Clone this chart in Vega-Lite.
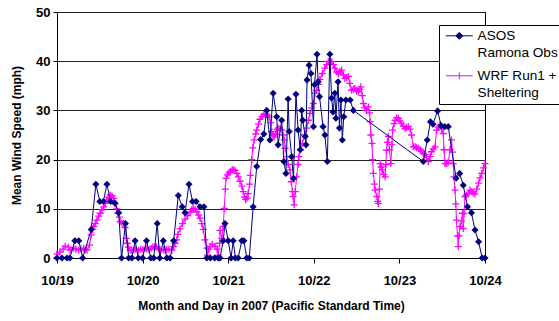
{
  "$schema": "https://vega.github.io/schema/vega-lite/v6.json",
  "width": 428,
  "height": 246,
  "autosize": {"type": "none"},
  "padding": {"left": 57, "top": 12, "right": 74, "bottom": 63},
  "background": "white",
  "config": {
    "font": "Liberation Sans",
    "view": {"stroke": "black", "strokeWidth": 1},
    "axis": {
      "labelFont": "Liberation Sans",
      "labelFontWeight": "bold",
      "labelFontSize": 13,
      "labelColor": "black",
      "titleFont": "Liberation Sans",
      "titleFontSize": 12,
      "titleFontWeight": "bold",
      "titleColor": "black",
      "domainColor": "black",
      "tickColor": "black"
    },
    "legend": {"labelFont": "Liberation Sans", "labelFontSize": 13.6, "labelColor": "black"}
  },
  "datasets": {
    "wrf": [
      {"hour":0,"mph":0.8},{"hour":0.8,"mph":1.2},{"hour":1.7,"mph":1.8},{"hour":2.3,"mph":2.4},{"hour":3.2,"mph":2.2},{"hour":3.7,"mph":1.6},{"hour":4.7,"mph":2.0},{"hour":5.3,"mph":1.8},{"hour":6.1,"mph":1.6},{"hour":6.7,"mph":1.9},{"hour":7.5,"mph":2.0},{"hour":8,"mph":1.7},{"hour":8.4,"mph":1.6},{"hour":9.1,"mph":2.6},{"hour":9.6,"mph":4.7},{"hour":10,"mph":5.8},{"hour":10.3,"mph":6.4},{"hour":10.7,"mph":7.0},{"hour":11.2,"mph":7.7},{"hour":11.7,"mph":8.5},{"hour":12.1,"mph":9.1},{"hour":12.6,"mph":9.8},{"hour":13.1,"mph":10.4},{"hour":13.5,"mph":11.1},{"hour":14,"mph":11.8},{"hour":14.5,"mph":12.3},{"hour":14.9,"mph":12.8},{"hour":15.4,"mph":12.6},{"hour":15.9,"mph":12.1},{"hour":16.3,"mph":11},{"hour":16.7,"mph":10},{"hour":17.1,"mph":9.1},{"hour":17.5,"mph":8.3},{"hour":17.7,"mph":7.4},{"hour":18.2,"mph":7.1},{"hour":18.7,"mph":7.0},{"hour":19.1,"mph":6.2},{"hour":19.4,"mph":4.0},{"hour":19.7,"mph":3.0},{"hour":20,"mph":2.2},{"hour":20.5,"mph":1.6},{"hour":21,"mph":1.5},{"hour":21.6,"mph":1.7},{"hour":22.1,"mph":1.8},{"hour":22.9,"mph":1.6},{"hour":23.5,"mph":1.8},{"hour":24.1,"mph":1.7},{"hour":24.8,"mph":2.0},{"hour":25.2,"mph":1.9},{"hour":25.8,"mph":1.7},{"hour":26.4,"mph":2.0},{"hour":26.9,"mph":2.3},{"hour":27.5,"mph":2.2},{"hour":27.9,"mph":2.3},{"hour":28.5,"mph":1.9},{"hour":28.9,"mph":1.7},{"hour":29.8,"mph":1.7},{"hour":30.3,"mph":1.6},{"hour":30.8,"mph":1.8},{"hour":31.4,"mph":1.8},{"hour":32.2,"mph":1.6},{"hour":32.7,"mph":2.3},{"hour":33.1,"mph":3.0},{"hour":33.6,"mph":3.7},{"hour":33.9,"mph":4.8},{"hour":34.5,"mph":5.9},{"hour":35.2,"mph":7.0},{"hour":35.9,"mph":7.9},{"hour":36.6,"mph":8.6},{"hour":37.3,"mph":9.3},{"hour":37.8,"mph":9.8},{"hour":38.2,"mph":10.1},{"hour":38.7,"mph":9.9},{"hour":39.2,"mph":9.4},{"hour":39.7,"mph":8.7},{"hour":40.1,"mph":8.1},{"hour":40.6,"mph":7.0},{"hour":41,"mph":5.8},{"hour":41.5,"mph":3.7},{"hour":42,"mph":2.0},{"hour":42.2,"mph":0.6},{"hour":42.6,"mph":1.8},{"hour":42.9,"mph":2.3},{"hour":43.5,"mph":2.8},{"hour":44.3,"mph":2.4},{"hour":44.9,"mph":1.8},{"hour":45.2,"mph":0.6},{"hour":45.6,"mph":3.0},{"hour":45.7,"mph":5.6},{"hour":46.2,"mph":4.0},{"hour":46.6,"mph":6.4},{"hour":46.9,"mph":10.1},{"hour":47.2,"mph":14},{"hour":47.4,"mph":16.2},{"hour":47.8,"mph":16.9},{"hour":48.2,"mph":17.3},{"hour":48.6,"mph":17.6},{"hour":49.1,"mph":17.9},{"hour":49.4,"mph":18.0},{"hour":49.9,"mph":17.8},{"hour":50.4,"mph":17.2},{"hour":50.8,"mph":16.5},{"hour":51.3,"mph":15.6},{"hour":51.8,"mph":14.6},{"hour":52.2,"mph":13.5},{"hour":52.6,"mph":12.4},{"hour":52.9,"mph":11.9},{"hour":53.3,"mph":12.2},{"hour":53.6,"mph":13.1},{"hour":54,"mph":15},{"hour":54.2,"mph":16.8},{"hour":54.6,"mph":20.0},{"hour":54.9,"mph":22.4},{"hour":55.3,"mph":24.0},{"hour":55.7,"mph":25.2},{"hour":56,"mph":26.0},{"hour":56.5,"mph":27.2},{"hour":56.9,"mph":28.2},{"hour":57.5,"mph":28.8},{"hour":58,"mph":29.2},{"hour":58.6,"mph":29.3},{"hour":59,"mph":29.0},{"hour":59.5,"mph":28.6},{"hour":59.9,"mph":27.5},{"hour":60.2,"mph":25.7},{"hour":60.6,"mph":24.9},{"hour":60.9,"mph":24.6},{"hour":61.3,"mph":25.2},{"hour":61.7,"mph":26.1},{"hour":62,"mph":26.4},{"hour":62.5,"mph":26.2},{"hour":63.1,"mph":26},{"hour":63.4,"mph":25},{"hour":63.7,"mph":24},{"hour":64,"mph":22.3},{"hour":64.4,"mph":20.6},{"hour":64.8,"mph":19},{"hour":65.3,"mph":17.9},{"hour":65.7,"mph":15.5},{"hour":66,"mph":13.5},{"hour":66.2,"mph":12.5},{"hour":66.5,"mph":10.8},{"hour":66.8,"mph":13.5},{"hour":67.2,"mph":16.5},{"hour":67.6,"mph":19},{"hour":67.8,"mph":20.6},{"hour":68.3,"mph":22},{"hour":68.8,"mph":23.3},{"hour":69.4,"mph":25},{"hour":70,"mph":26.4},{"hour":70.5,"mph":28},{"hour":70.9,"mph":29.4},{"hour":71.4,"mph":30.5},{"hour":71.9,"mph":31.4},{"hour":72.3,"mph":33.5},{"hour":72.8,"mph":34.1},{"hour":73.3,"mph":35.3},{"hour":73.7,"mph":36.3},{"hour":74.4,"mph":37.5},{"hour":75.1,"mph":38.6},{"hour":75.6,"mph":39.3},{"hour":76.1,"mph":39.9},{"hour":76.5,"mph":40.0},{"hour":77,"mph":39.9},{"hour":77.5,"mph":39.3},{"hour":77.9,"mph":38.6},{"hour":78.4,"mph":37.8},{"hour":78.9,"mph":37.5},{"hour":79.3,"mph":37.9},{"hour":79.8,"mph":38.2},{"hour":80.3,"mph":37.2},{"hour":80.7,"mph":36.5},{"hour":81.2,"mph":36.7},{"hour":81.7,"mph":36.9},{"hour":82.1,"mph":35.5},{"hour":82.6,"mph":34.1},{"hour":83.1,"mph":34.3},{"hour":83.5,"mph":34.5},{"hour":84,"mph":34.0},{"hour":84.5,"mph":33.8},{"hour":84.9,"mph":34.3},{"hour":85.2,"mph":34.8},{"hour":85.6,"mph":33},{"hour":85.9,"mph":31.4},{"hour":86.3,"mph":30.5},{"hour":86.8,"mph":30},{"hour":87.3,"mph":30.7},{"hour":87.6,"mph":29.5},{"hour":87.8,"mph":27.7},{"hour":88,"mph":25},{"hour":88.3,"mph":23.3},{"hour":88.5,"mph":20},{"hour":88.7,"mph":17.2},{"hour":89,"mph":15},{"hour":89.2,"mph":13.8},{"hour":89.7,"mph":12.5},{"hour":89.9,"mph":11.5},{"hour":90.1,"mph":11.1},{"hour":90.4,"mph":14},{"hour":90.6,"mph":19.2},{"hour":90.9,"mph":18.5},{"hour":91.2,"mph":17.9},{"hour":91.6,"mph":17},{"hour":92,"mph":16.5},{"hour":92.2,"mph":19},{"hour":92.4,"mph":21.9},{"hour":92.6,"mph":23.5},{"hour":92.9,"mph":24.7},{"hour":93.2,"mph":22},{"hour":93.6,"mph":19.2},{"hour":93.9,"mph":23},{"hour":94.1,"mph":26},{"hour":94.5,"mph":27.3},{"hour":94.8,"mph":28},{"hour":95.2,"mph":28.5},{"hour":95.7,"mph":28.4},{"hour":96.2,"mph":27.8},{"hour":96.6,"mph":27.4},{"hour":97.1,"mph":26.8},{"hour":97.6,"mph":26.3},{"hour":98,"mph":26.5},{"hour":98.5,"mph":26.7},{"hour":99,"mph":26.2},{"hour":99.4,"mph":25},{"hour":99.9,"mph":22.6},{"hour":100.4,"mph":22.6},{"hour":100.8,"mph":22.4},{"hour":101.3,"mph":22.3},{"hour":101.8,"mph":22.1},{"hour":102.2,"mph":21.7},{"hour":102.7,"mph":21.3},{"hour":103.2,"mph":21},{"hour":103.6,"mph":20.6},{"hour":104.1,"mph":19.6},{"hour":104.6,"mph":20.6},{"hour":105,"mph":21.6},{"hour":105.5,"mph":22.2},{"hour":106,"mph":22.6},{"hour":106.4,"mph":26},{"hour":106.9,"mph":26.6},{"hour":107.4,"mph":27},{"hour":107.8,"mph":26.2},{"hour":108.3,"mph":25.3},{"hour":108.5,"mph":22},{"hour":108.8,"mph":19.2},{"hour":109.2,"mph":19.2},{"hour":109.7,"mph":19.5},{"hour":110.2,"mph":22},{"hour":110.6,"mph":24},{"hour":110.9,"mph":21.5},{"hour":111.1,"mph":19.2},{"hour":111.3,"mph":16.5},{"hour":111.6,"mph":13.8},{"hour":111.8,"mph":11},{"hour":112,"mph":7.7},{"hour":112.3,"mph":4.5},{"hour":112.5,"mph":2.3},{"hour":112.7,"mph":4.5},{"hour":113,"mph":6.4},{"hour":113.4,"mph":7.5},{"hour":113.7,"mph":9.1},{"hour":113.9,"mph":6.0},{"hour":114.1,"mph":9},{"hour":114.4,"mph":12.5},{"hour":114.8,"mph":12.8},{"hour":115.3,"mph":13.1},{"hour":115.8,"mph":13.8},{"hour":116.3,"mph":13.5},{"hour":116.7,"mph":13.2},{"hour":117.2,"mph":13},{"hour":117.7,"mph":14},{"hour":118.2,"mph":15.2},{"hour":118.6,"mph":16.3},{"hour":119.1,"mph":17.2},{"hour":119.6,"mph":18.3},{"hour":120,"mph":19.2}
    ],
    "asos": [
      {"hour":0,"mph":0},{"hour":1.4,"mph":0},{"hour":2.8,"mph":0},{"hour":3.6,"mph":0},{"hour":5,"mph":3.5},{"hour":6.1,"mph":3.5},{"hour":7.2,"mph":0},{"hour":9.6,"mph":5.8},{"hour":10.9,"mph":15},{"hour":12,"mph":11.5},{"hour":13,"mph":11.5},{"hour":14,"mph":15},{"hour":15,"mph":11.5},{"hour":16.2,"mph":11.2},{"hour":17.3,"mph":9.2},{"hour":18.1,"mph":0},{"hour":19.2,"mph":7},{"hour":20.1,"mph":0},{"hour":21,"mph":0},{"hour":21.9,"mph":3.5},{"hour":22.8,"mph":0},{"hour":24,"mph":0},{"hour":25.1,"mph":3.5},{"hour":26.3,"mph":0},{"hour":27.1,"mph":0},{"hour":28.1,"mph":7},{"hour":28.8,"mph":0},{"hour":29.8,"mph":3.5},{"hour":30.8,"mph":0},{"hour":31.7,"mph":0},{"hour":32.7,"mph":3.5},{"hour":34,"mph":12.7},{"hour":35.1,"mph":10.4},{"hour":35.9,"mph":9.2},{"hour":37,"mph":15},{"hour":38,"mph":11.5},{"hour":39,"mph":11.5},{"hour":40.1,"mph":10.4},{"hour":41.2,"mph":10.4},{"hour":42,"mph":0},{"hour":43,"mph":0},{"hour":44.2,"mph":0},{"hour":45.2,"mph":0},{"hour":45.7,"mph":0},{"hour":46.6,"mph":3.5},{"hour":47.1,"mph":7},{"hour":48,"mph":3.5},{"hour":48.8,"mph":0},{"hour":49.4,"mph":3.5},{"hour":50,"mph":0},{"hour":50.8,"mph":0},{"hour":51.8,"mph":3.5},{"hour":52.4,"mph":3.5},{"hour":53.2,"mph":0},{"hour":53.9,"mph":0},{"hour":55,"mph":10.4},{"hour":56,"mph":18.6},{"hour":57.1,"mph":24.1},{"hour":58,"mph":25.2},{"hour":58.8,"mph":30},{"hour":59.7,"mph":24},{"hour":60.6,"mph":33.5},{"hour":61.6,"mph":28.7},{"hour":62,"mph":23},{"hour":63,"mph":28},{"hour":63.6,"mph":19.6},{"hour":64.2,"mph":17.2},{"hour":64.8,"mph":32.3},{"hour":65.1,"mph":25.7},{"hour":65.8,"mph":20.6},{"hour":66.3,"mph":16.2},{"hour":67,"mph":33.3},{"hour":67.6,"mph":26},{"hour":68.2,"mph":22},{"hour":68.6,"mph":30},{"hour":68.9,"mph":28},{"hour":69.6,"mph":24.7},{"hour":69.8,"mph":23},{"hour":70.1,"mph":36.2},{"hour":70.7,"mph":39.2},{"hour":71.2,"mph":37.5},{"hour":71.9,"mph":26.7},{"hour":72.2,"mph":35.2},{"hour":72.9,"mph":41.4},{"hour":73.2,"mph":35.8},{"hour":73.6,"mph":32.8},{"hour":74.6,"mph":26.7},{"hour":75.1,"mph":25},{"hour":75.8,"mph":19.6},{"hour":76.5,"mph":41.4},{"hour":77,"mph":32.5},{"hour":77.4,"mph":29.7},{"hour":77.9,"mph":33.5},{"hour":78.2,"mph":28.4},{"hour":78.8,"mph":35.8},{"hour":79.2,"mph":26.4},{"hour":79.6,"mph":32.1},{"hour":80,"mph":24},{"hour":80.4,"mph":28.7},{"hour":81,"mph":32.1},{"hour":82.2,"mph":32.1},{"hour":83.1,"mph":30},{"hour":102.7,"mph":19.6},{"hour":103.8,"mph":24},{"hour":104.7,"mph":27.7},{"hour":105.4,"mph":27.2},{"hour":106.7,"mph":29.9},{"hour":107.7,"mph":26.9},{"hour":108.7,"mph":26.7},{"hour":109.7,"mph":26.7},{"hour":111.9,"mph":16.2},{"hour":112.9,"mph":17.2},{"hour":113.9,"mph":14.8},{"hour":115.1,"mph":10.4},{"hour":116.2,"mph":9.2},{"hour":117.2,"mph":5.7},{"hour":118.2,"mph":3.3},{"hour":119.2,"mph":0},{"hour":120,"mph":0}
    ]
  },
  "encoding": {
    "x": {
      "field": "hour",
      "type": "quantitative",
      "scale": {"domain": [0, 120], "nice": false, "zero": false},
      "axis": {
        "title": "Month and Day in 2007 (Pacific Standard Time)",
        "values": [0, 24, 48, 72, 96, 120],
        "labelExpr": "['10/19','10/20','10/21','10/22','10/23','10/24'][round(datum.value/24)]",
        "grid": false,
        "tickSize": 5,
        "labelPadding": 11,
        "titlePadding": 13,
        "labelFlush": false
      }
    },
    "y": {
      "field": "mph",
      "type": "quantitative",
      "scale": {"domain": [0, 50], "nice": false},
      "axis": {
        "title": "Mean Wind Speed (mph)",
        "values": [0, 10, 20, 30, 40, 50],
        "grid": true,
        "gridColor": "#222222",
        "gridWidth": 1,
        "tickSize": 4,
        "labelPadding": 3,
        "titlePadding": 12
      }
    }
  },
  "layer": [
    {
      "data": {"name": "wrf"},
      "mark": {"type": "line", "strokeWidth": 1},
      "encoding": {
        "color": {
          "datum": "WRF Run1 + Sheltering",
          "type": "nominal",
          "scale": {"domain": ["ASOS Ramona Obs", "WRF Run1 + Sheltering"], "range": ["#000080", "#FF00FF"]},
          "legend": {
            "title": null,
            "orient": "none",
            "legendX": 382,
            "legendY": 13,
            "padding": 4,
            "strokeColor": "black",
            "fillColor": "white",
            "cornerRadius": 0,
            "symbolSize": 64,
            "labelOffset": 21,
            "rowPadding": 8,
            "labelExpr": "datum.label == 'ASOS Ramona Obs' ? ['ASOS','Ramona Obs'] : ['WRF Run1 +','Sheltering']",
            "encode": {
              "symbols": {
                "update": {
                  "shape": {"signal": "datum.value == 'ASOS Ramona Obs' ? 'M-1,0H5.75M2.375,-0.875L3.25,0L2.375,0.875L1.5,0Z' : 'M-1,0H5.75M2.375,-0.875V0.875'"},
                  "fill": {"signal": "datum.value == 'ASOS Ramona Obs' ? '#000080' : 'transparent'"},
                  "stroke": {"signal": "datum.value == 'ASOS Ramona Obs' ? '#000080' : '#FF00FF'"},
                  "strokeWidth": {"value": 1},
                  "opacity": {"value": 1}
                }
              },
              "labels": {"update": {"lineHeight": {"value": 17}}}
            }
          }
        }
      }
    },
    {
      "data": {"name": "wrf"},
      "mark": {"type": "point", "shape": "M-1,0H1M0,-1V1", "size": 49, "filled": false, "stroke": "#FF00FF", "strokeWidth": 1.3, "opacity": 1},
      "encoding": {}
    },
    {
      "data": {"name": "asos"},
      "mark": {"type": "line", "strokeWidth": 1, "color": "#000080"},
      "encoding": {}
    },
    {
      "data": {"name": "asos"},
      "mark": {"type": "point", "shape": "diamond", "size": 50, "filled": true, "color": "#000080", "opacity": 1},
      "encoding": {}
    }
  ]
}
